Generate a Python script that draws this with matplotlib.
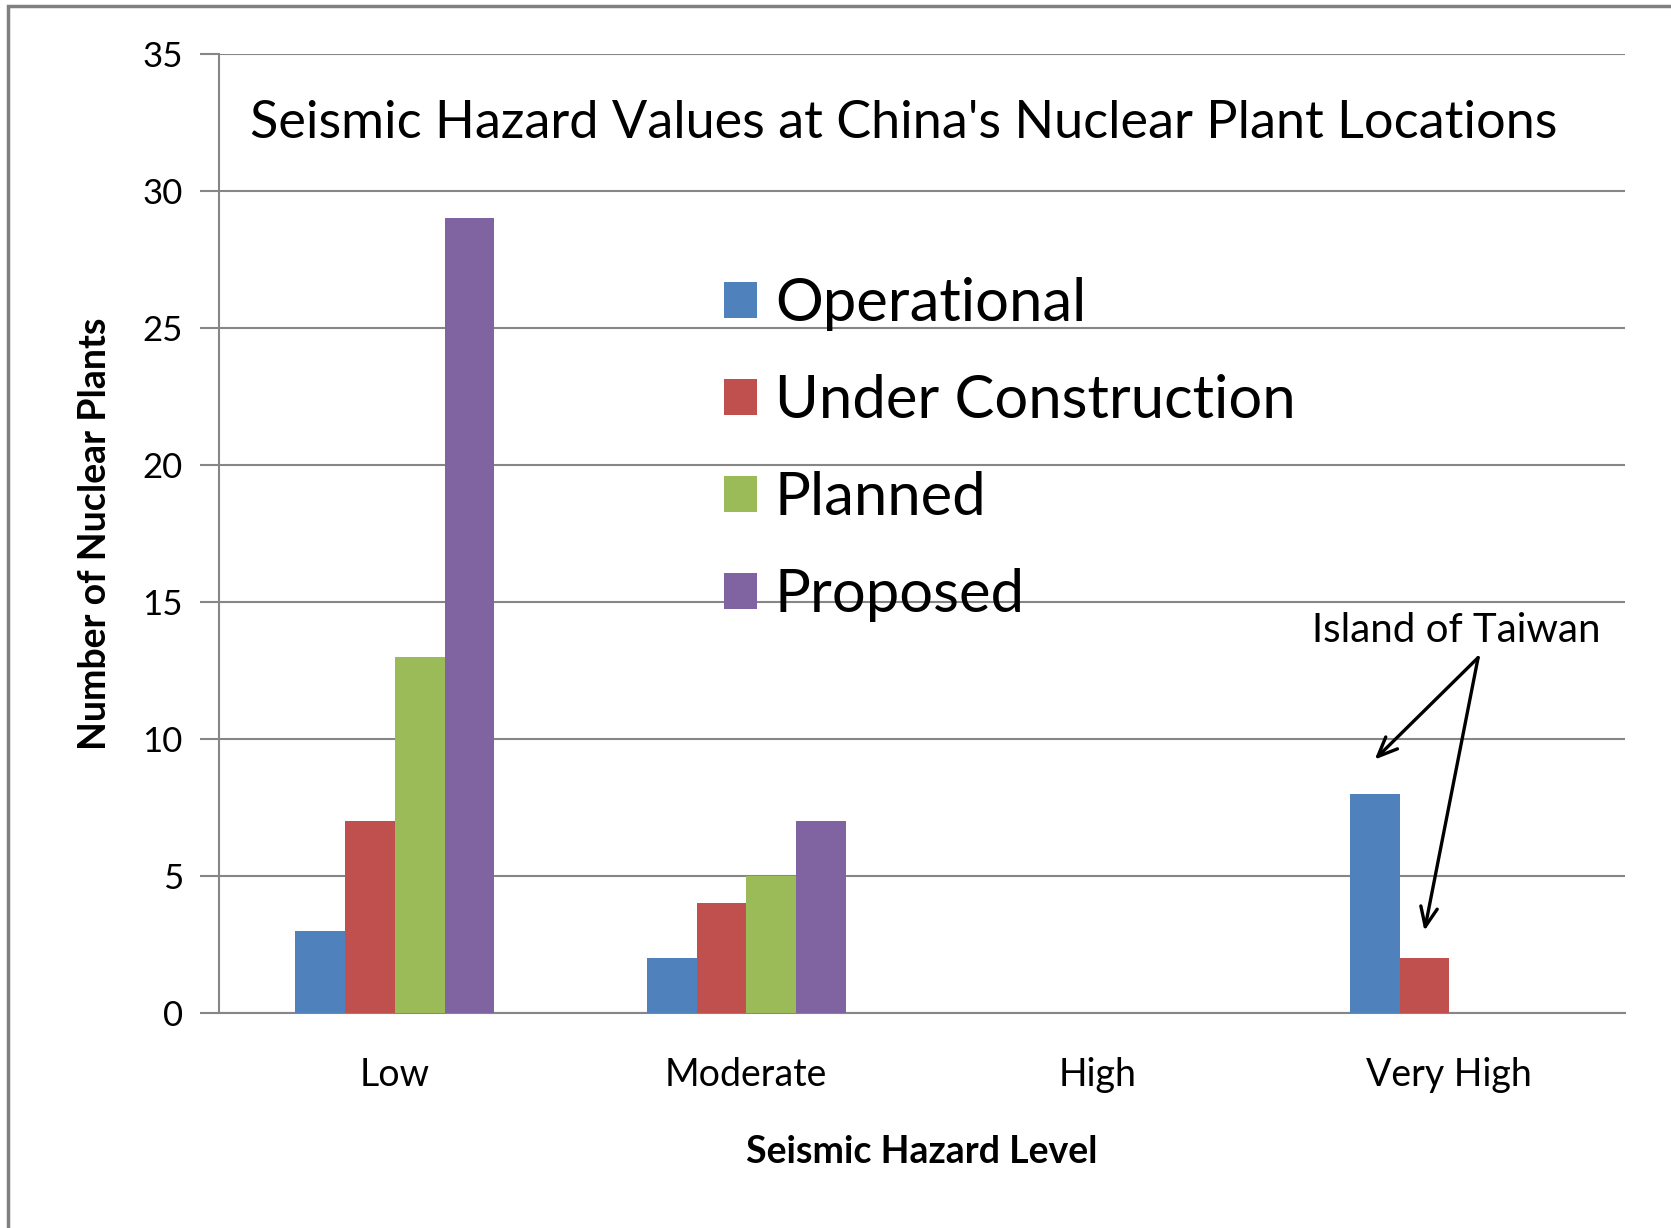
import numpy as np
import matplotlib.pyplot as plt
from matplotlib.patches import Rectangle

plt.rcParams["font.family"] = ["Lato", "DejaVu Sans"]

categories = ["Low", "Moderate", "High", "Very High"]
series = ["Operational", "Under Construction", "Planned", "Proposed"]
operational = [3, 2, 0, 8]
under_construction = [7, 4, 0, 2]
planned = [13, 5, 0, 0]
proposed = [29, 7, 0, 0]
colors = ["#4F81BD", "#C0504D", "#9BBB59", "#8064A2"]


def plot_chart():
    fig = plt.figure(figsize=(16.71, 12.28), dpi=100)
    ax = fig.add_axes([0.1311, 0.1751, 0.8414, 0.7809])

    values = [operational, under_construction, planned, proposed]
    x = np.arange(len(categories))
    width = 0.1414
    for i, (name, vals) in enumerate(zip(series, values)):
        ax.bar(x + (i - 1.5) * width, vals, width, color=colors[i], label=name, zorder=3)

    ax.set_xlim(-0.5, 3.5)
    ax.set_ylim(0, 35)
    ax.set_yticks(range(0, 36, 5))
    ax.set_xticks(x)
    ax.set_xticklabels(categories)
    ax.tick_params(axis="y", length=14, width=1.5, color="#868686", labelsize=25, pad=12)
    ax.tick_params(axis="x", length=0, labelsize=27, pad=32)
    ax.grid(axis="y", color="#868686", linewidth=1.5, zorder=0)
    for s in ["top", "right"]:
        ax.spines[s].set_visible(False)
    ax.spines["left"].set_color("#868686")
    ax.spines["left"].set_linewidth(1.5)
    ax.spines["bottom"].set_color("#868686")
    ax.spines["bottom"].set_linewidth(1.5)

    ax.set_xlabel("Seismic Hazard Level", fontsize=27, fontweight="bold", labelpad=30)
    ax.set_ylabel("Number of Nuclear Plants", fontsize=27, fontweight="bold", labelpad=22)

    ax.text(0.487, 0.928, "Seismic Hazard Values at China's Nuclear Plant Locations",
            transform=ax.transAxes, ha="center", va="center", fontsize=37.6)

    ax.legend(loc="upper left", bbox_to_anchor=(0.419, 0.794), bbox_transform=fig.transFigure,
              frameon=False, fontsize=43, handlelength=0.55, handleheight=0.55,
              handletextpad=0.3, labelspacing=0.72, borderaxespad=0)

    # Taiwan annotation pointing at the Very High bars
    apex = (3.082, 12.97)
    ax.text(3.02, 13.95, "Island of Taiwan", ha="center", va="center", fontsize=29)
    targets = [(x[3] - 1.5 * width, operational[3] + 1.25),
               (x[3] - 0.5 * width, under_construction[3] + 1.0)]
    for tx, ty in targets:
        ax.annotate("", xy=(tx, ty), xytext=apex,
                    arrowprops=dict(arrowstyle="->,head_length=1.4,head_width=0.6",
                                    color="black", lw=2.4, shrinkA=0, shrinkB=0))

    fig.add_artist(Rectangle((8 / 1671, -0.1), 1.2, 1.1 - 6 / 1228, transform=fig.transFigure,
                             fill=False, edgecolor="#808080", linewidth=2.5))

    fig.savefig("out.png", dpi=100)


if __name__ == "__main__":
    plot_chart()
